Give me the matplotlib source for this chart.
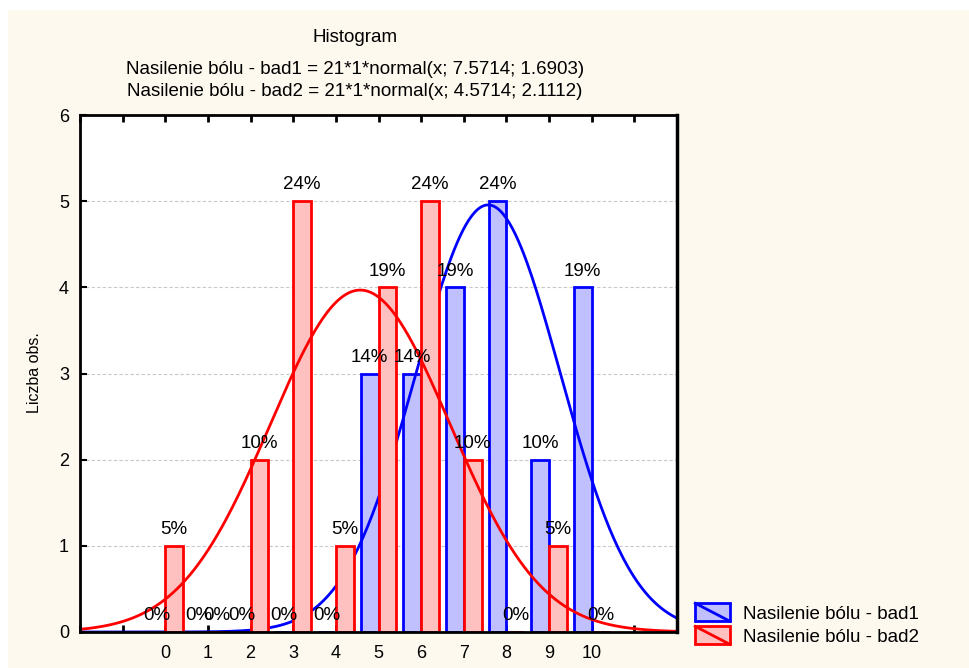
import numpy as np
import matplotlib
matplotlib.use("Agg")
import matplotlib.pyplot as plt
from matplotlib.patches import Rectangle
from matplotlib.lines import Line2D
from matplotlib.legend_handler import HandlerBase

plt.rcParams['font.family'] = ['Liberation Sans', 'DejaVu Sans']

categories = [0, 1, 2, 3, 4, 5, 6, 7, 8, 9, 10]
bad1 = [0, 0, 0, 0, 0, 3, 3, 4, 5, 2, 4]
bad2 = [1, 0, 2, 5, 1, 4, 5, 2, 0, 1, 0]
n_obs = 21
mean1, sd1 = 7.5714, 1.6903
mean2, sd2 = 4.5714, 2.1112
name1 = "Nasilenie bólu - bad1"
name2 = "Nasilenie bólu - bad2"

blue_edge, blue_fill = "#0000FF", "#C0C0FF"
red_edge, red_fill = "#FF0000", "#FFC0C0"

W, H = 970, 668
fig = plt.figure(figsize=(W / 100, H / 100), dpi=100)
fig.patch.set_facecolor("white")
fig.patches.append(Rectangle((8 / W, 0), 1 - 8 / W, 1 - 10 / H, transform=fig.transFigure,
                             facecolor="#FDF9EE", edgecolor="none", zorder=-10))

ax = fig.add_axes([80 / W, 1 - 632 / H, (677 - 80) / W, (632 - 115) / H])
ax.set_facecolor("white")
ax.set_xlim(-2, 12)
ax.set_ylim(0, 6)

x = np.array(categories, dtype=float)
w = 0.42

def normal(xx, m, s):
    return n_obs * np.exp(-0.5 * ((xx - m) / s) ** 2) / (s * np.sqrt(2 * np.pi))

xs = np.linspace(-2, 12, 400)

ax.bar(x - w / 2, bad1, width=w, facecolor=blue_fill, edgecolor=blue_edge, linewidth=2, zorder=2)
ax.plot(xs, normal(xs, mean1, sd1), color=blue_edge, lw=2, zorder=3)
ax.bar(x + w / 2, bad2, width=w, facecolor=red_fill, edgecolor=red_edge, linewidth=2, zorder=4)
ax.plot(xs, normal(xs, mean2, sd2), color=red_edge, lw=2, zorder=5)

for xi, v in zip(x, bad1):
    ax.text(xi - w / 2, v + 0.09, f"{round(100 * v / n_obs)}%", ha="center", va="bottom",
            fontsize=13.5, zorder=6)
for xi, v in zip(x, bad2):
    ax.text(xi + w / 2, v + 0.09, f"{round(100 * v / n_obs)}%", ha="center", va="bottom",
            fontsize=13.5, zorder=6)

ax.set_yticks(range(0, 7))
ax.grid(axis="y", color="#C8C8C8", linestyle=(0, (3, 2)), linewidth=0.8, zorder=0)
ax.set_axisbelow(True)

ax.set_xticks(range(-2, 13))
ax.set_xticklabels([str(t) if 0 <= t <= 10 else "" for t in range(-2, 13)])
ax.tick_params(axis="x", direction="in", length=5, width=2, top=True, labelsize=13, pad=9)
ax.tick_params(axis="y", direction="in", length=5, width=1.5, labelsize=13, pad=8)
for s in ax.spines.values():
    s.set_linewidth(2)
    s.set_zorder(10)
ax.spines["right"].set_linewidth(2.5)

fig.text(35 / W, 1 - 373 / H, "Liczba obs.", rotation=90, ha="center", va="center", fontsize=11.5)

cx = 355 / W
fig.text(cx, 1 - 37 / H, "Histogram", ha="center", va="center", fontsize=13.5)
fig.text(cx, 1 - 69 / H, f"{name1} = {n_obs}*1*normal(x; {mean1}; {sd1})", ha="center", va="center", fontsize=13.5)
fig.text(cx, 1 - 91 / H, f"{name2} = {n_obs}*1*normal(x; {mean2}; {sd2})", ha="center", va="center", fontsize=13.5)


class DiagHandler(HandlerBase):
    def create_artists(self, legend, orig_handle, xdescent, ydescent, width, height, fontsize, trans):
        fc, ec = orig_handle
        r = Rectangle((-xdescent, -ydescent), width, height, facecolor=fc, edgecolor=ec, lw=2, transform=trans)
        l = Line2D([-xdescent, -xdescent + width], [-ydescent + height, -ydescent], color=ec, lw=2, transform=trans)
        return [r, l]


handles = [(blue_fill, blue_edge), (red_fill, red_edge)]
fig.legend(handles, [name1, name2], handler_map={tuple: DiagHandler()},
           loc="upper left", bbox_to_anchor=(684 / W, 1 - 592 / H), frameon=False,
           fontsize=13.5, handlelength=1.85, handleheight=1.1, handletextpad=0.7,
           labelspacing=0.2, borderpad=0.1)

fig.savefig("out.png", dpi=100, facecolor=fig.get_facecolor())
